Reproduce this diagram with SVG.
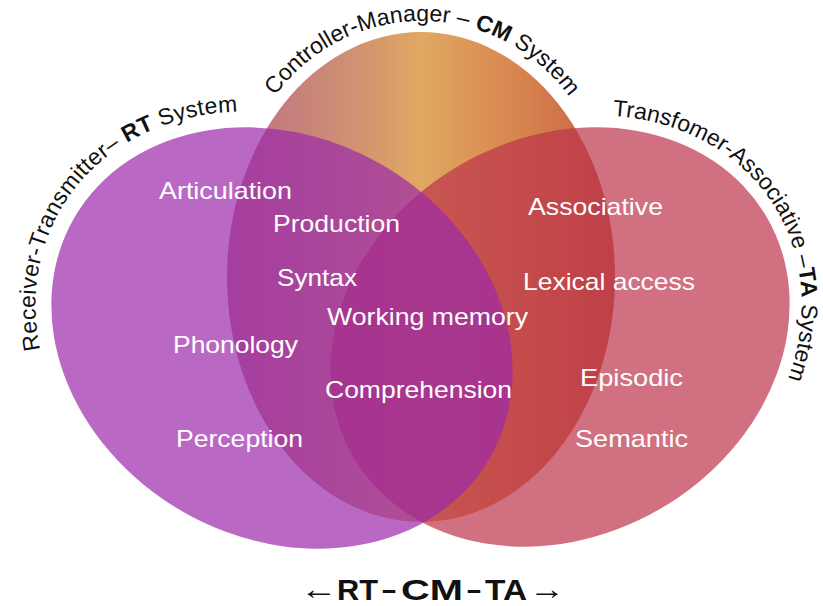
<svg xmlns="http://www.w3.org/2000/svg" width="823" height="606" viewBox="0 0 823 606">
  <style>
    .lbl { font-family: "Liberation Sans", Arial, sans-serif; font-size: 24px; fill: #FFFFFF; }
    .arc { font-family: "Liberation Sans", Arial, sans-serif; font-size: 23px; fill: #111111; }
    .b { font-weight: bold; }
    .foot { font-family: "Liberation Sans", Arial, sans-serif; font-size: 30px; font-weight: bold; fill: #111111; }
    .arrow { font-family: "Liberation Serif", "Times New Roman", serif; font-size: 30px; fill: #111111; }
  </style>
  <defs>
    <linearGradient id="cmGrad" gradientUnits="userSpaceOnUse" x1="227" y1="0" x2="615" y2="0">
      <stop offset="0" stop-color="#BE6E86"/>
      <stop offset="0.3" stop-color="#CD8E74"/>
      <stop offset="0.5" stop-color="#E1A862"/>
      <stop offset="0.75" stop-color="#D8854F"/>
      <stop offset="1" stop-color="#C65E45"/>
    </linearGradient>
    <path id="pRT" d="M 78.4 468.9 A 256 216 0 0 1 282 122"/>
    <path id="pCM" d="M 275.3 95.9 A 181 181 0 0 1 596.8 155.2"/>
    <path id="pTA" d="M 716 171.6 A 251 211 0 0 1 645.8 535.3"/>
  </defs>
  <rect width="823" height="606" fill="#FFFFFF"/>

  <g id="cm-system">
    <ellipse cx="421" cy="277" rx="194" ry="245" fill="url(#cmGrad)"/>
  </g>
  <g id="ta-system">
    <ellipse cx="560" cy="337" rx="239" ry="199" transform="rotate(-30 560 337)" fill="#BC334A" fill-opacity="0.7"/>
  </g>
  <g id="rt-system">
    <ellipse cx="282" cy="338" rx="240" ry="200" transform="rotate(30 282 338)" fill="#9B29A9" fill-opacity="0.7"/>
  </g>

  <g id="titles">
    <g transform="rotate(30 282 338)">
      <text class="arc" letter-spacing="0.3"><textPath href="#pRT">Receiver-Transmitter– <tspan class="b">RT</tspan> System</textPath></text>
    </g>
    <text class="arc"><textPath href="#pCM">Controller-Manager – <tspan class="b">CM</tspan> System</textPath></text>
    <g transform="rotate(-30 560 337)">
      <text class="arc" font-size="22.5"><textPath href="#pTA">Transfomer-Associative –<tspan class="b">TA</tspan> System</textPath></text>
    </g>
  </g>

  <g id="labels">
    <text class="lbl" x="159" y="199" textLength="133" lengthAdjust="spacingAndGlyphs">Articulation</text>
    <text class="lbl" x="273" y="232" textLength="127" lengthAdjust="spacingAndGlyphs">Production</text>
    <text class="lbl" x="277" y="286" textLength="80" lengthAdjust="spacingAndGlyphs">Syntax</text>
    <text class="lbl" x="327" y="325" textLength="201" lengthAdjust="spacingAndGlyphs">Working memory</text>
    <text class="lbl" x="173" y="353" textLength="125" lengthAdjust="spacingAndGlyphs">Phonology</text>
    <text class="lbl" x="325" y="398" textLength="187" lengthAdjust="spacingAndGlyphs">Comprehension</text>
    <text class="lbl" x="176" y="447" textLength="127" lengthAdjust="spacingAndGlyphs">Perception</text>
    <text class="lbl" x="528" y="215" textLength="135" lengthAdjust="spacingAndGlyphs">Associative</text>
    <text class="lbl" x="523" y="290" textLength="172" lengthAdjust="spacingAndGlyphs">Lexical access</text>
    <text class="lbl" x="580" y="386" textLength="103" lengthAdjust="spacingAndGlyphs">Episodic</text>
    <text class="lbl" x="575" y="447" textLength="113" lengthAdjust="spacingAndGlyphs">Semantic</text>
  </g>

  <g id="footer">
    <text class="arrow" transform="translate(300 599) scale(1.25 1)">←</text>
    <text class="foot" x="337" y="600" textLength="41" lengthAdjust="spacingAndGlyphs">RT</text>
    <text class="foot" x="382" y="600" textLength="14" lengthAdjust="spacingAndGlyphs">–</text>
    <text class="foot" x="401" y="600" textLength="62" lengthAdjust="spacingAndGlyphs">CM</text>
    <text class="foot" x="467" y="600" textLength="14" lengthAdjust="spacingAndGlyphs">–</text>
    <text class="foot" x="485" y="600" textLength="42" lengthAdjust="spacingAndGlyphs">TA</text>
    <text class="arrow" transform="translate(529 599) scale(1.2 1)">→</text>
  </g>
</svg>
